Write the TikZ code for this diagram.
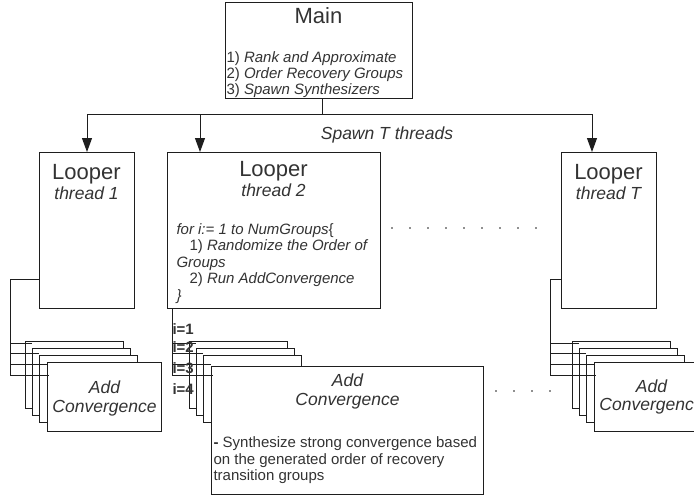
\documentclass[tikz,border=0pt]{standalone}
\usepackage{fontspec}
\setmainfont{Liberation Sans}
\usetikzlibrary{arrows.meta}
\definecolor{txt}{RGB}{51,51,51}
\definecolor{ln}{RGB}{30,30,30}
\begin{document}
\begin{tikzpicture}[x=1pt,y=-1pt,line width=1pt,
  box/.style={draw=ln,fill=white,inner sep=0pt,anchor=north west},
  lbl/.style={text=txt,inner sep=0pt},
  bl/.style={lbl,anchor=base west},
  bc/.style={lbl,anchor=base},
  big/.style={font=\fontsize{22}{26}\selectfont},
  mid/.style={font=\fontsize{17.5}{21}\selectfont\itshape},
  small/.style={font=\fontsize{15}{16}\selectfont},
  arr/.style={draw=ln,-{Triangle[length=14pt,width=10pt]}},
  wire/.style={draw=ln}]
\useasboundingbox (0,0) rectangle (694,498);
\clip (0,0) rectangle (694,498);

% Main
\node[box,minimum width=187pt,minimum height=96pt] (main) at (225,2) {};
\node[bc,big] (maint) at (318.5,23.3) {Main};
\node[bl,small] (m1t) at (226,62.3) {1) \textit{Rank and Approximate}};
\node[bl,small] (m2t) at (226,78.3) {2) \textit{Order Recovery Groups}};
\node[bl,small] (m3t) at (226,94.3) {3) \textit{Spawn Synthesizers}};

% Loopers
\node[box,minimum width=95pt,minimum height=156pt] (l1) at (39,152) {};
\node[box,minimum width=213pt,minimum height=156pt] (l2) at (167,152) {};
\node[box,minimum width=95pt,minimum height=156pt] (lT) at (561,152) {};

\node[bc,big] (l1a) at (86.5,179) {Looper};
\node[bc,mid] (l1b) at (86.5,199.3) {thread 1};
\node[bc,big] (l2a) at (273.5,176) {Looper};
\node[bc,mid] (l2b) at (273.5,196.7) {thread 2};
\node[bc,big] (lTa) at (608.5,179) {Looper};
\node[bc,mid] (lTb) at (608.5,199.3) {thread T};

\node[bl,small] (f1) at (176,234.3) {\textit{for i:= 1 to NumGroups}\{};
\node[bl,small] (f2) at (189,250.7) {1) \textit{Randomize the Order of}};
\node[bl,small] (f3) at (176,267) {\textit{Groups}};
\node[bl,small] (f4) at (189,283.5) {2) \textit{Run AddConvergence}};
\node[bl,small] (f5) at (176,300) {\textit{\}}};

% spawn connectors
\coordinate (j) at (322,114);
\draw[wire] (main.south -| j) -- (j);
\draw[arr] (j) -| (l1.north);
\draw[arr] (j) -| ([xshift=33pt]l2.north west);
\draw[arr] (j) -| ([xshift=31pt]lT.north west);
\node[bc,mid] (spawn) at (387,139.2) {Spawn T threads};

% dots
\foreach \k in {0,...,8} \fill[ln] (392+18*\k,228) circle (0.9);
\foreach \k in {0,...,3} \fill[ln] (496+18*\k,391) circle (0.9);

% ---------- left group ----------
\coordinate (lb0) at (10,279);
\coordinate (lb4) at (10,375);
\draw[wire] (lb0 -| l1.west) -- (lb0) -- (lb4);
\node[box,minimum width=98pt,minimum height=67pt] (a1) at (25,341) {};
\draw[wire] (10,343) -- (32,343);
\node[box,minimum width=98pt,minimum height=67pt] (a2) at (32,348) {};
\draw[wire] (10,353) -- (39,353);
\node[box,minimum width=98pt,minimum height=67pt] (a3) at (39,355) {};
\draw[wire] (10,364) -- (47,364);
\node[box,minimum width=114pt,minimum height=69pt] (a4) at (47,362) {};
\draw[wire] (lb4) -- ([xshift=2pt]lb4 -| a4.west);
\node[bc,mid] (a4a) at (a4.center |- 0,393.3) {Add};
\node[bc,mid] (a4b) at (a4.center |- 0,412.7) {Convergence};

% ---------- middle group ----------
\coordinate (mb0) at (172,308);
\coordinate (mb4) at (172,375);
\draw[wire] (mb0) -- (mb4);
\node[box,minimum width=98pt,minimum height=67pt] (b1) at (189,341) {};
\draw[wire] (172,343) -- (196,343);
\node[box,minimum width=98pt,minimum height=67pt] (b2) at (196,348) {};
\draw[wire] (172,353) -- (203,353);
\node[box,minimum width=98pt,minimum height=67pt] (b3) at (203,355) {};
\draw[wire] (172,364) -- (211,364);
\node[box,minimum width=272pt,minimum height=128pt] (b4) at (211,366) {};
\draw[wire] (mb4) -- ([xshift=2pt]mb4 -| b4.west);
\node[bc,mid] (b4a) at (b4.center |- 0,386) {Add};
\node[bc,mid] (b4b) at (b4.center |- 0,405.7) {Convergence};
\node[bl,small] (s1) at (213,447.7) {\textbf{-} Synthesize strong convergence based};
\node[bl,small] (s2) at (213,464.3) {on the generated order of recovery};
\node[bl,small] (s3) at (213,480.5) {transition groups};
\node[bl,small,font=\fontsize{15}{16}\selectfont\bfseries] (i1) at (172,334.3) {i=1};
\node[bl,small,font=\fontsize{15}{16}\selectfont\bfseries] (i2) at (172,352) {i=2};
\node[bl,small,font=\fontsize{15}{16}\selectfont\bfseries] (i3) at (172,373.3) {i=3};
\node[bl,small,font=\fontsize{15}{16}\selectfont\bfseries] (i4) at (172,394.3) {i=4};

% ---------- right group ----------
\coordinate (tb0) at (550,279);
\coordinate (tb4) at (550,375);
\draw[wire] (tb0 -| lT.west) -- (tb0) -- (tb4);
\node[box,minimum width=98pt,minimum height=67pt] (c1) at (572,341) {};
\draw[wire] (550,343) -- (579,343);
\node[box,minimum width=98pt,minimum height=67pt] (c2) at (579,348) {};
\draw[wire] (550,353) -- (586,353);
\node[box,minimum width=98pt,minimum height=67pt] (c3) at (586,355) {};
\draw[wire] (550,364) -- (594,364);
\node[box,minimum width=114pt,minimum height=69pt] (c4) at (594,362) {};
\draw[wire] (tb4) -- ([xshift=2pt]tb4 -| c4.west);
\node[bc,mid] (c4a) at (c4.center |- 0,392.3) {Add};
\node[bc,mid] (c4b) at (c4.center |- 0,410.7) {Convergence};
\end{tikzpicture}
\end{document}
